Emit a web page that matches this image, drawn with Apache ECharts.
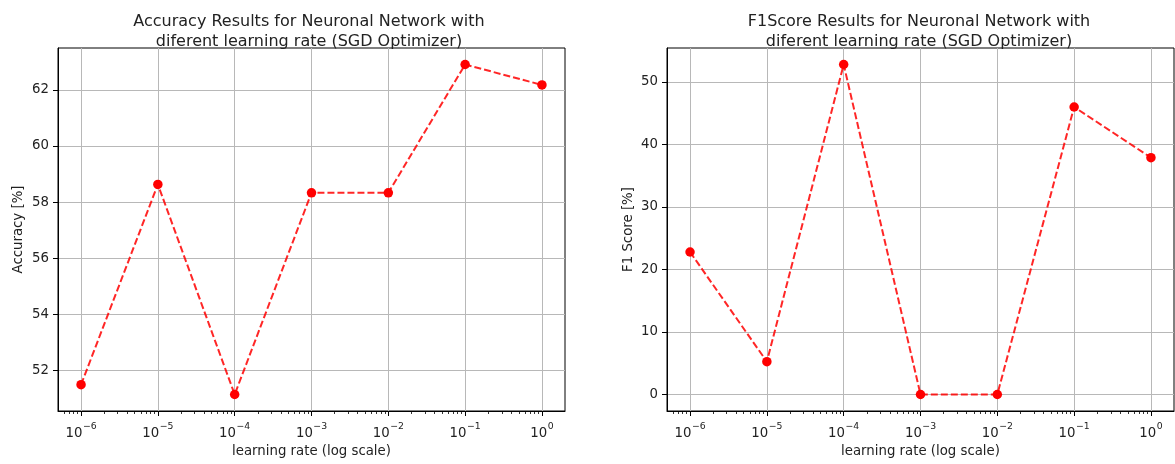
<!DOCTYPE html>
<html>
<head>
<meta charset="utf-8">
<script src="https://cdn.jsdelivr.net/npm/echarts@6/dist/echarts.min.js"></script>
<style>
  html, body { margin: 0; padding: 0; background: #ffffff; }
  #chart { width: 1175px; height: 464px; }
</style>
</head>
<body>
<div id="chart"></div>
<script>
// Learning rates tried with the SGD optimizer and the resulting scores (%)
const learningRates = [1e-6, 1e-5, 1e-4, 1e-3, 1e-2, 1e-1, 1];
const accuracy = [51.48, 58.63, 51.13, 58.33, 58.33, 62.91, 62.18];
const f1Score = [22.8, 5.25, 52.8, 0, 0, 46.0, 37.9];

// Tick labels
const xTickExponents = [-6, -5, -4, -3, -2, -1, 0];
const accuracyTicks = [52, 54, 56, 58, 60, 62];
const f1Ticks = [0, 10, 20, 30, 40, 50];

const FONT = 'DejaVu Sans';
const TEXT = '#222222';
const GRIDLINE = '#b8b8b8';
const RED = '#ff0000';
const LABEL_SIZE = 13.3;
const TITLE_SIZE = 16;

// x runs over log10(learning rate); 5% padding on each side like matplotlib
const xExp = learningRates.map(v => Math.log10(v));
const xPad = 0.05 * (Math.max(...xExp) - Math.min(...xExp));
const xMin = Math.min(...xExp) - xPad;
const xMax = Math.max(...xExp) + xPad;

function padded(values) {
  const lo = Math.min(...values), hi = Math.max(...values);
  const p = 0.05 * (hi - lo);
  return [lo - p, hi + p];
}
const accRange = padded(accuracy);
const f1Range = padded(f1Score);

// minor log ticks at 2..9 x 10^n
const minorTicks = [];
for (let n = -7; n <= 0; n++) {
  for (let m = 2; m <= 9; m++) {
    const v = Math.log10(m * Math.pow(10, n));
    if (v > xMin && v < xMax) minorTicks.push(v);
  }
}

function powerLabel(v) {
  const e = Math.round(v);
  const sup = e < 0 ? '\u2212' + (-e) : String(e);
  return '{b|10}{s|' + sup + '}';
}

const grids = [
  { left: 58, top: 48, width: 507, height: 363 },
  { left: 667, top: 48, width: 507, height: 363 }
];

function mainXAxis(gridIndex) {
  return {
    type: 'value', gridIndex, min: xMin, max: xMax, position: 'bottom',
    name: 'learning rate (log scale)', nameLocation: 'middle', nameGap: 34,
    nameTextStyle: { fontFamily: FONT, fontSize: LABEL_SIZE, color: TEXT },
    axisLine: { show: true, onZero: false, lineStyle: { color: '#000', width: 1 } },
    axisTick: { show: true, inside: false, length: 5, customValues: xTickExponents,
                lineStyle: { color: '#000', width: 1 } },
    axisLabel: {
      customValues: xTickExponents, margin: 11, formatter: powerLabel,
      rich: {
        b: { fontFamily: FONT, fontSize: LABEL_SIZE, color: TEXT, lineHeight: 18, verticalAlign: 'bottom' },
        s: { fontFamily: FONT, fontSize: 9.3, color: TEXT, lineHeight: 18, verticalAlign: 'top', padding: [0, 0, 0, 0.5] }
      }
    },
    splitLine: { show: true, lineStyle: { color: GRIDLINE, width: 1 } }
  };
}

function minorXAxis(gridIndex) {
  return {
    type: 'value', gridIndex, min: xMin, max: xMax, position: 'bottom',
    axisLine: { show: false, onZero: false },
    axisTick: { show: true, inside: false, length: 3, customValues: minorTicks,
                lineStyle: { color: '#000', width: 0.8 } },
    axisLabel: { show: false },
    splitLine: { show: false }
  };
}

function yAxis(gridIndex, range, ticks, name, gap) {
  return {
    type: 'value', gridIndex, min: range[0], max: range[1], position: 'left',
    name, nameLocation: 'middle', nameGap: gap,
    nameTextStyle: { fontFamily: FONT, fontSize: LABEL_SIZE, color: TEXT },
    axisLine: { show: true, onZero: false, lineStyle: { color: '#000', width: 1 } },
    axisTick: { show: true, inside: false, length: 5, customValues: ticks,
                lineStyle: { color: '#000', width: 1 } },
    axisLabel: { customValues: ticks, margin: 9, fontFamily: FONT, fontSize: LABEL_SIZE, color: TEXT },
    splitLine: { show: true, lineStyle: { color: GRIDLINE, width: 1 } }
  };
}

function lineSeries(idx, values) {
  return {
    type: 'line', xAxisIndex: idx, yAxisIndex: idx,
    data: xExp.map((x, i) => [x, values[i]]),
    symbol: 'circle', symbolSize: 9.5,
    itemStyle: { color: RED },
    lineStyle: { color: RED, width: 2, type: [7, 3], opacity: 0.85 },
    animation: false, z: 5
  };
}

const chart = echarts.init(document.getElementById('chart'), null, { renderer: 'canvas' });
chart.setOption({
  backgroundColor: '#ffffff',
  animation: false,
  title: [
    { text: 'Accuracy Results for Neuronal Network with\ndiferent learning rate (SGD Optimizer)',
      left: 304, top: 7, textAlign: 'center',
      textStyle: { fontFamily: FONT, fontSize: TITLE_SIZE, fontWeight: 'normal', color: TEXT, lineHeight: 20 } },
    { text: 'F1Score Results for Neuronal Network with\ndiferent learning rate (SGD Optimizer)',
      left: 914, top: 7, textAlign: 'center',
      textStyle: { fontFamily: FONT, fontSize: TITLE_SIZE, fontWeight: 'normal', color: TEXT, lineHeight: 20 } }
  ],
  grid: grids.map(g => Object.assign({ show: true, borderColor: '#000', borderWidth: 1, backgroundColor: 'transparent' }, g)),
  xAxis: [mainXAxis(0), mainXAxis(1), minorXAxis(0), minorXAxis(1)],
  yAxis: [
    yAxis(0, accRange, accuracyTicks, 'Accuracy [%]', 33),
    yAxis(1, f1Range, f1Ticks, 'F1 Score [%]', 32)
  ],
  series: [lineSeries(0, accuracy), lineSeries(1, f1Score)]
});
</script>
</body>
</html>
